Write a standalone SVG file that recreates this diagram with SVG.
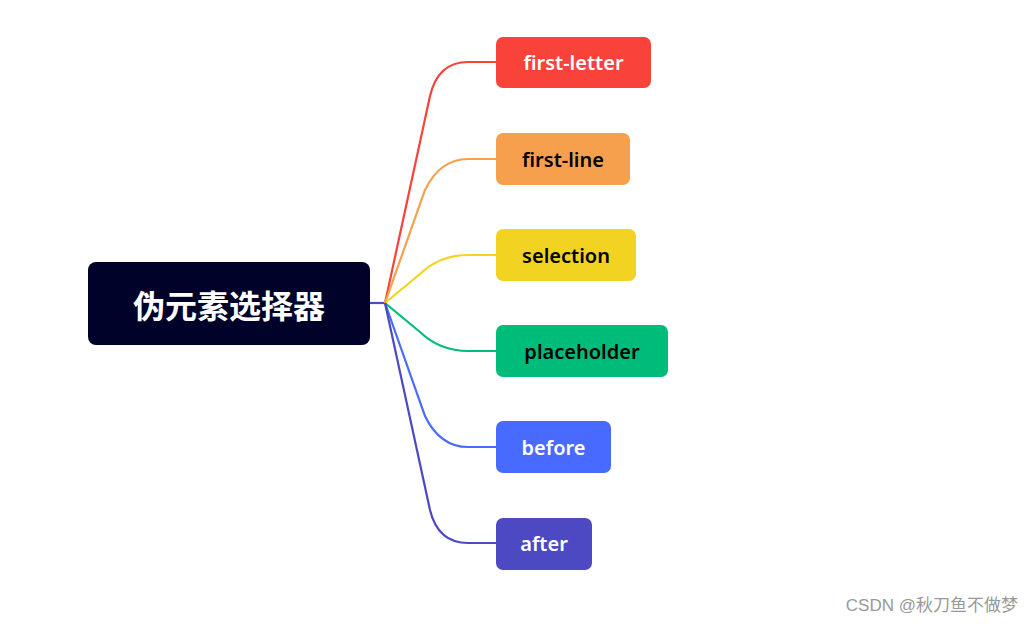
<svg xmlns="http://www.w3.org/2000/svg" width="1034" height="624" viewBox="0 0 1034 624">
<style>
.lbl{font-family:"Noto Sans","Liberation Sans",sans-serif;font-size:20px;font-weight:600;text-anchor:middle;dominant-baseline:central}
.c{fill:none;stroke-width:2.2}
</style>
<rect width="1034" height="624" fill="#fff"/>
<g id="connectors">
<path class="c" stroke="#4C49C2" d="M370,303 H385"/>
<path class="c" stroke="#F9423A" d="M385,303 L430,96 Q438,62 468,62 H496"/>
<path class="c" stroke="#F6A04D" d="M385,303 L425,190 Q440,159 468,159 H496"/>
<path class="c" stroke="#F3D321" d="M385,303 L420,274 Q440,255 468,255 H496"/>
<path class="c" stroke="#00BC7B" d="M385,303 L420,332 Q440,351 468,351 H496"/>
<path class="c" stroke="#486AFF" d="M385,303 L425,416 Q440,447 468,447 H496"/>
<path class="c" stroke="#4C49C2" d="M385,303 L430,510 Q438,543 468,543 H496"/>
</g>
<g id="root"><rect x="88" y="262" width="282" height="83" rx="8" fill="#000229"/>
<text x="229" y="304" class="lbl" style="font-size:32px;font-weight:700;font-family:'Noto Sans CJK SC',sans-serif" fill="#fff">伪元素选择器</text></g>
<g id="n1"><rect x="496" y="37" width="155" height="51" rx="7" fill="#F9423A"/><text x="573.5" y="62" class="lbl" fill="#fff">first-letter</text></g>
<g id="n2"><rect x="496" y="133" width="134" height="52" rx="7" fill="#F6A04D"/><text x="563" y="159" class="lbl" fill="#000">first-line</text></g>
<g id="n3"><rect x="496" y="229" width="140" height="52" rx="7" fill="#F3D321"/><text x="566" y="255" class="lbl" fill="#000">selection</text></g>
<g id="n4"><rect x="496" y="325" width="172" height="52" rx="7" fill="#00BC7B"/><text x="582" y="351" class="lbl" fill="#000">placeholder</text></g>
<g id="n5"><rect x="496" y="421" width="115" height="52" rx="7" fill="#486AFF"/><text x="553.5" y="447" class="lbl" fill="#fff">before</text></g>
<g id="n6"><rect x="496" y="518" width="96" height="52" rx="7" fill="#4C49C2"/><text x="544" y="543" class="lbl" fill="#fff">after</text></g>
<text x="1018" y="611" text-anchor="end" font-family="'Liberation Sans','Noto Sans CJK SC',sans-serif" font-size="17" fill="#999">CSDN @秋刀鱼不做梦</text>
</svg>
